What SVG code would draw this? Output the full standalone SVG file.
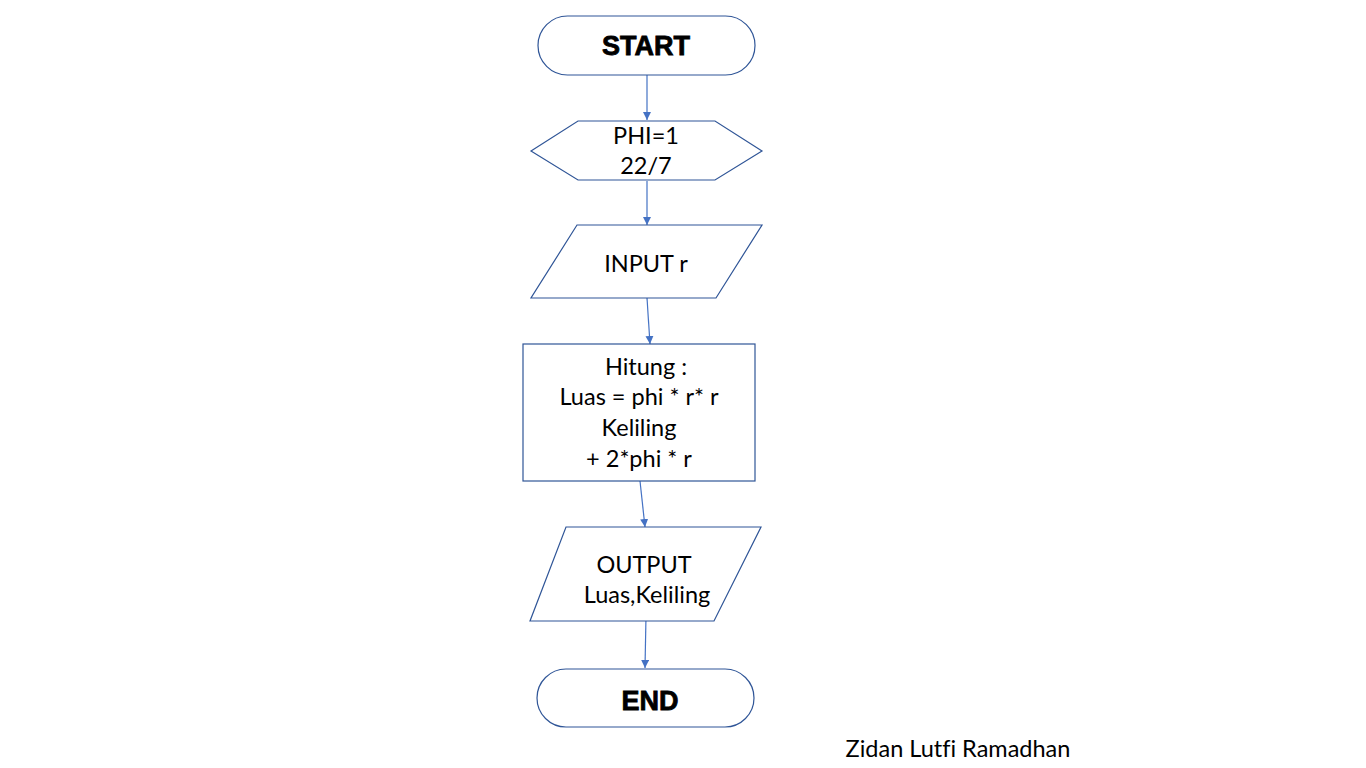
<svg xmlns="http://www.w3.org/2000/svg" width="1366" height="768" viewBox="0 0 1366 768">
<style>
.shape{fill:#fff;stroke:#2F5597;stroke-width:1.2}
.t{font-family:Lato,"Open Sans",sans-serif;font-size:23.5px;fill:#000;text-anchor:middle;font-variant-ligatures:none}
.b{font-family:"Liberation Sans",Arial,sans-serif;font-weight:bold;font-size:27px;fill:#000;stroke:#000;stroke-width:0.8;text-anchor:middle}
.c{stroke:#4472C4;stroke-width:1.2;fill:none;marker-end:url(#ah)}
</style>
<defs>
<marker id="ah" viewBox="0 0 10 10" refX="10" refY="5" markerWidth="8" markerHeight="8" markerUnits="userSpaceOnUse" orient="auto">
<path d="M0,0 L10,5 L0,10 z" fill="#4472C4"/>
</marker>
</defs>
<rect width="1366" height="768" fill="#fff"/>
<g id="connectors">
<line class="c" x1="647" y1="75" x2="647" y2="120"/>
<line class="c" x1="647" y1="181" x2="647" y2="225"/>
<line class="c" x1="647" y1="298" x2="650" y2="344"/>
<line class="c" x1="640" y1="481" x2="645" y2="527"/>
<line class="c" x1="646" y1="616" x2="645" y2="668"/>
</g>
<g id="start">
<rect class="shape" x="538" y="16" width="217" height="59" rx="29.5"/>
<text class="b" x="646" y="55">START</text>
</g>
<g id="phi">
<polygon class="shape" points="531,151 578,121 715,121 762,151 715,180 578,180"/>
<text class="t" x="646" y="144">PHI=1</text>
<text class="t" x="646" y="174">22/7</text>
</g>
<g id="input">
<polygon class="shape" points="577,225 762,225 716,298 531,298"/>
<text class="t" x="646" y="272">INPUT r</text>
</g>
<g id="process">
<rect class="shape" x="523" y="344" width="232" height="137"/>
<text class="t" x="646" y="375">Hitung :</text>
<text class="t" x="639" y="405">Luas = phi * r* r</text>
<text class="t" x="639" y="436">Keliling</text>
<text class="t" x="639" y="467">+ 2*phi * r</text>
</g>
<g id="output">
<polygon class="shape" points="566,527 761,527 714,621 530,621"/>
<text class="t" x="644" y="573">OUTPUT</text>
<text class="t" x="647" y="603">Luas,Keliling</text>
</g>
<g id="end">
<rect class="shape" x="537" y="669" width="217" height="58" rx="29"/>
<text class="b" x="650" y="710">END</text>
</g>
<text class="t" x="958" y="757">Zidan Lutfi Ramadhan</text>
</svg>
